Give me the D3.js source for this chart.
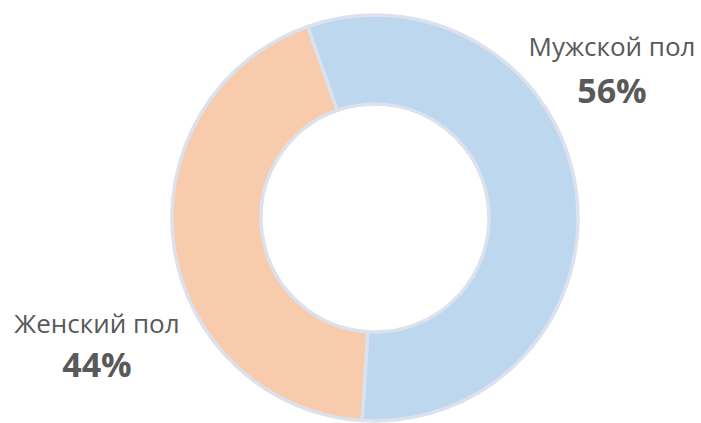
<!DOCTYPE html>
<html>
<head>
<meta charset="utf-8">
<script src="https://cdn.jsdelivr.net/npm/d3@7"></script>
<style>
  html, body { margin: 0; padding: 0; background: #fff; }
  svg { display: block; }
  .name { font-family: "Open Sans", sans-serif; font-size: 26px; fill: #595959; }
  .pct { font-family: "Open Sans", sans-serif; font-size: 34px; font-weight: bold; fill: #595959; }
</style>
</head>
<body>
<svg id="chart" width="701" height="423"></svg>
<script>
// данные
const categories = ["Мужской пол", "Женский пол"];
const shares = [56.4, 43.6];
const colors = ["#BDD7EE", "#F8CBAD"];

const svg = d3.select("#chart");
const cx = 375, cy = 218;
const outerR = 203, innerR = 114;

const pie = d3.pie()
    .sort(null)
    .startAngle(-19.4 * Math.PI / 180)
    .endAngle((360 - 19.4) * Math.PI / 180);

const arc = d3.arc().innerRadius(innerR).outerRadius(outerR);

const g = svg.append("g").attr("transform", `translate(${cx},${cy})`);

g.selectAll("path")
    .data(pie(shares))
    .join("path")
    .attr("d", arc)
    .attr("fill", (d, i) => colors[i])
    .attr("stroke", "#DCE1EE")
    .attr("stroke-width", 3.5)
    .attr("stroke-linejoin", "round");

// подписи (позиции — вручную, как в оригинале)
const labelPos = [
    { x: 612, y1: 56, y2: 103 },
    { x: 97, y1: 333, y2: 377 }
];

const total = d3.sum(shares);
const labels = svg.selectAll("g.label")
    .data(categories)
    .join("g")
    .attr("class", "label")
    .attr("text-anchor", "middle");

labels.append("text")
    .attr("class", "name")
    .attr("x", (d, i) => labelPos[i].x)
    .attr("y", (d, i) => labelPos[i].y1)
    .text(d => d);

labels.append("text")
    .attr("class", "pct")
    .attr("x", (d, i) => labelPos[i].x)
    .attr("y", (d, i) => labelPos[i].y2)
    .text((d, i) => Math.round(shares[i] / total * 100) + "%");
</script>
</body>
</html>
